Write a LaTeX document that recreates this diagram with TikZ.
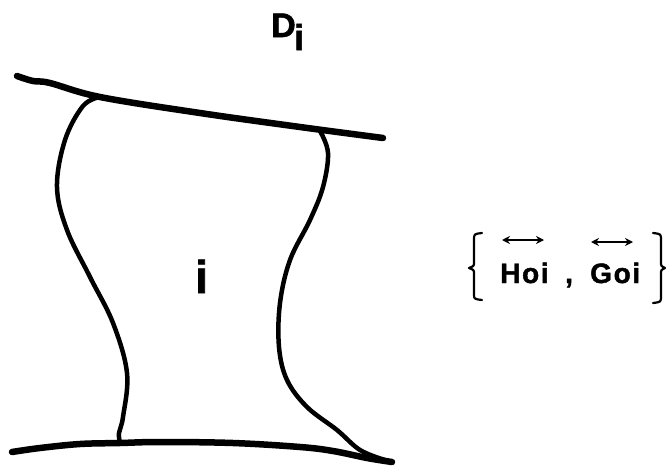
\documentclass[tikz,border=0pt]{standalone}
\usepackage{fontspec}
\setmainfont{Liberation Sans}[BoldFeatures={FakeBold=1.6}]
\newfontfamily\spaced{Liberation Sans}[BoldFeatures={FakeBold=1.6}, LetterSpace=6]
\usetikzlibrary{arrows.meta}
\tikzset{
  edge/.style={line width=6.5pt, line cap=round, line join=round},
  side/.style={line width=4.5pt, line cap=round, line join=round},
  lbl/.style={inner sep=0pt, anchor=base west},
  vec/.style={line width=2.8pt, {Stealth[length=8pt,width=8pt]}-{Stealth[length=8pt,width=8pt]}},
  brace/.style={line width=2.2pt, line cap=round, line join=round}
}
\begin{document}
\begin{tikzpicture}[x=1pt,y=-1pt]
\useasboundingbox (0,0) rectangle (667,466);
% junction coordinates
\coordinate (tl) at (100,97);
\coordinate (tr) at (320,131);
\coordinate (bl) at (120,443);
\coordinate (br) at (385,460);
% top boundary
\draw[edge] plot[smooth, tension=0.6] coordinates {(17,76) (33,81) (50,83) (100,97) (200,113) (300,127) (383,138)};
% bottom boundary
\draw[edge] plot[smooth, tension=0.6] coordinates {(12,452) (40,448) (80,444) (120,443) (160,442) (233,443) (300,447) (333,451) (367,458) (392,462)};
% left side
\draw[side] plot[smooth, tension=0.6] coordinates {(tl) (83,106) (65,140) (57,187) (67,230) (90,277) (113,323) (127,373) (123,417) (119,433) (bl)};
% right side
\draw[side] plot[smooth, tension=0.6] coordinates {(tr) (328,153) (323,187) (310,220) (290,260) (280,303) (279,347) (287,380) (307,407) (337,430) (360,450) (br)};
% labels
\node[lbl, font=\bfseries\fontsize{34}{34}\selectfont] (D) at (271,37) {D};
\node[lbl, font=\bfseries\fontsize{36}{36}\selectfont] (Dsub) at (294,50) {i};
\node[lbl, font=\bfseries\fontsize{46}{46}\selectfont] (reg) at (195,293) {i};
\node[lbl, font=\spaced\bfseries\fontsize{28}{28}\selectfont] (H) at (500,283) {Hoi};
\node[lbl, font=\bfseries\fontsize{28}{28}\selectfont] (comma) at (565,283) {,};
\node[lbl, font=\spaced\bfseries\fontsize{28}{28}\selectfont] (G) at (590,283) {Goi};
% vector arrows
\coordinate (ha) at (502,240);
\coordinate (hb) at (544,240);
\coordinate (ga) at (591,242);
\coordinate (gb) at (633,242);
\draw[vec] (ha) -- (hb);
\draw[vec] (ga) -- (gb);
% braces
\draw[brace] (482,233) .. controls (474,234) .. (474,240) -- (474,262) .. controls (474,266) .. (469,268) .. controls (474,270) .. (474,274) -- (474,294) .. controls (474,299) .. (482,300);
\draw[brace] (653,233) .. controls (661,234) .. (661,240) -- (661,262) .. controls (661,266) .. (665,268) .. controls (661,270) .. (661,274) -- (661,296) .. controls (661,302) .. (653,303);
\end{tikzpicture}
\end{document}
